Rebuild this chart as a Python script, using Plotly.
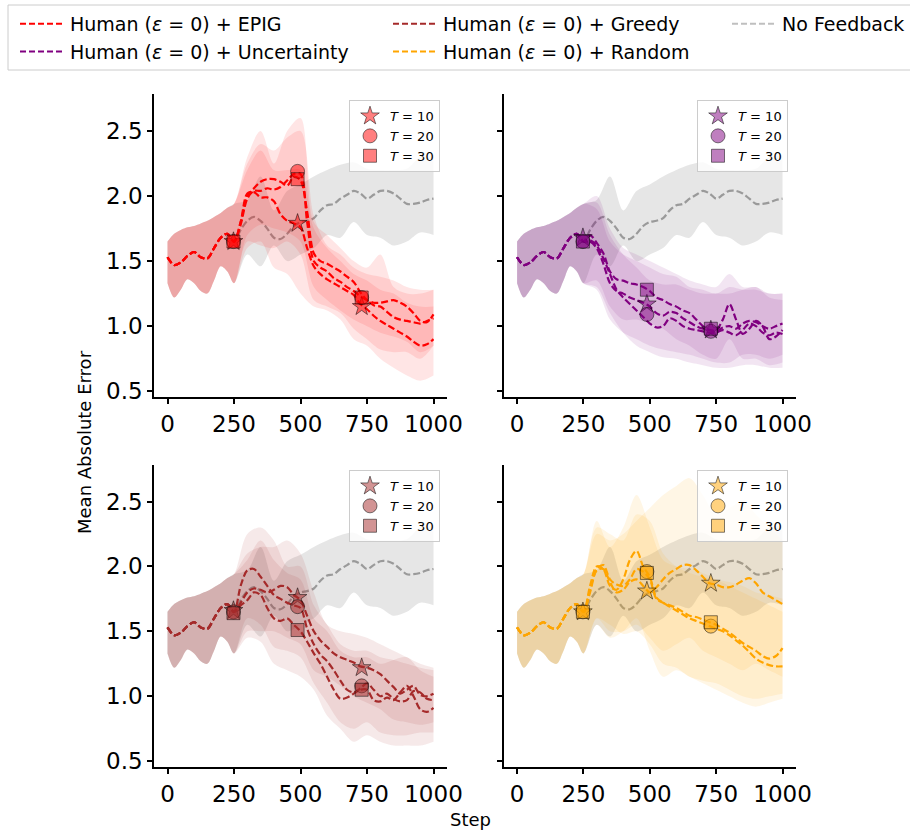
import plotly.graph_objects as go

# ---------------- data ----------------
WARM_STEPS = [0, 25, 50, 75, 100, 125, 150, 175, 200, 225, 250]
WARM_MEAN = [1.53, 1.47, 1.49, 1.54, 1.57, 1.53, 1.52, 1.60, 1.68, 1.71, 1.65]
WARM_HI = [1.65, 1.71, 1.74, 1.76, 1.77, 1.79, 1.81, 1.84, 1.87, 1.91, 1.94]
WARM_LO = [1.33, 1.22, 1.28, 1.36, 1.33, 1.27, 1.25, 1.35, 1.46, 1.42, 1.33]

LINE_STEPS = [275, 300, 325, 350, 375, 400, 425, 450, 475, 500,
              525, 550, 575, 600, 625, 650, 675, 700, 725, 750,
              775, 800, 825, 850, 875, 900, 925, 950, 975, 1000]
BAND_STEPS = [300, 350, 400, 450, 500, 550, 600, 650, 700, 750, 800, 850, 900, 950, 1000]
MARKER_STEPS = [248, 489, 730]

# No feedback baseline
NOFB = [1.74, 1.81, 1.84, 1.81, 1.75, 1.68, 1.67, 1.71, 1.77, 1.80,
        1.81, 1.83, 1.89, 1.93, 1.94, 1.98, 2.01, 2.04, 2.02, 1.98,
        2.01, 2.04, 2.04, 2.02, 1.98, 1.94, 1.94, 1.95, 1.97, 1.98]
NOFB_HI = [1.97, 2.15, 1.89, 2.04, 2.09, 2.15, 2.20, 2.24, 2.26, 2.21, 2.20, 2.20, 2.21, 2.30, 2.31]
NOFB_LO = [1.55, 1.46, 1.62, 1.50, 1.55, 1.60, 1.70, 1.68, 1.80, 1.70, 1.68, 1.62, 1.65, 1.72, 1.70]

# EPIG
EPIG_T10 = [1.80, 2.02, 2.03, 1.99, 1.99, 1.96, 1.86, 1.81, 1.79, 1.76,
            1.60, 1.46, 1.40, 1.36, 1.33, 1.30, 1.27, 1.24, 1.17, 1.13,
            1.08, 1.04, 1.01, 0.98, 0.95, 0.92, 0.88, 0.85, 0.86, 0.90]
EPIG_T20 = [1.78, 1.98, 2.04, 2.04, 2.06, 2.05, 2.07, 2.12, 2.17, 2.17,
            1.80, 1.50, 1.45, 1.42, 1.37, 1.34, 1.30, 1.27, 1.23, 1.20,
            1.16, 1.15, 1.11, 1.07, 1.05, 1.04, 1.03, 1.02, 1.04, 1.06]
EPIG_T30 = [1.80, 2.00, 2.06, 2.11, 2.13, 2.13, 2.11, 2.08, 2.15, 2.12,
            1.88, 1.56, 1.50, 1.48, 1.45, 1.42, 1.38, 1.34, 1.26, 1.20,
            1.18, 1.18, 1.19, 1.20, 1.18, 1.15, 1.10, 1.04, 1.03, 1.09]
EPIG_T10_HI = [2.20, 2.35, 2.20, 2.20, 2.20, 1.75, 1.60, 1.50, 1.40, 1.35, 1.28, 1.25, 1.18, 1.15, 1.15]
EPIG_T10_LO = [1.60, 1.65, 1.45, 1.40, 1.25, 1.15, 1.12, 1.05, 0.90, 0.85, 0.75, 0.68, 0.62, 0.58, 0.62]
EPIG_T20_HI = [2.30, 2.50, 2.25, 2.50, 2.60, 1.80, 1.70, 1.60, 1.50, 1.45, 1.55, 1.30, 1.25, 1.25, 1.28]
EPIG_T20_LO = [1.65, 1.62, 1.60, 1.65, 1.55, 1.20, 1.15, 1.10, 0.98, 0.90, 0.82, 0.80, 0.80, 0.75, 0.85]
EPIG_T30_HI = [2.25, 2.40, 2.35, 2.45, 2.50, 1.85, 1.62, 1.55, 1.45, 1.40, 1.38, 1.35, 1.30, 1.28, 1.28]
EPIG_T30_LO = [1.70, 1.78, 1.75, 1.72, 1.65, 1.30, 1.20, 1.12, 1.05, 1.00, 0.95, 0.92, 0.88, 0.80, 0.85]
EPIG_MARK_T10 = [1.65, 1.79, 1.15]
EPIG_MARK_T20 = [1.65, 2.19, 1.22]
EPIG_MARK_T30 = [1.65, 2.13, 1.22]

# Uncertainty
UNC_T10 = [1.65, 1.60, 1.48, 1.33, 1.27, 1.25, 1.22, 1.20, 1.18, 1.15,
           1.10, 1.08, 1.11, 1.10, 1.06, 1.03, 1.00, 0.98, 0.97, 0.96,
           0.99, 1.00, 0.98, 1.02, 1.04, 1.03, 1.00, 0.98, 1.00, 1.02]
UNC_T20 = [1.66, 1.62, 1.52, 1.40, 1.28, 1.22, 1.17, 1.12, 1.07, 1.02,
           0.99, 1.00, 1.06, 1.04, 1.00, 0.98, 0.97, 0.96, 0.95, 0.95,
           0.97, 0.95, 0.93, 0.97, 1.02, 1.00, 0.95, 0.93, 0.95, 0.94]
UNC_T30 = [1.70, 1.64, 1.56, 1.42, 1.36, 1.35, 1.33, 1.32, 1.30, 1.27,
           1.22, 1.20, 1.17, 1.15, 1.12, 1.10, 1.05, 1.00, 0.97, 0.97,
           1.05, 1.17, 1.05, 0.94, 0.98, 1.04, 1.00, 0.90, 0.92, 0.97]
UNC_T10_HI = [1.90, 1.65, 1.55, 1.50, 1.45, 1.40, 1.38, 1.30, 1.28, 1.25, 1.30, 1.28, 1.28, 1.25, 1.25]
UNC_T10_LO = [1.28, 1.05, 0.95, 0.90, 0.85, 0.82, 0.80, 0.78, 0.75, 0.72, 0.72, 0.78, 0.78, 0.75, 0.78]
UNC_T20_HI = [1.95, 1.70, 1.55, 1.45, 1.35, 1.32, 1.32, 1.28, 1.25, 1.25, 1.25, 1.28, 1.30, 1.22, 1.20]
UNC_T20_LO = [1.30, 1.10, 0.95, 0.85, 0.80, 0.76, 0.75, 0.72, 0.70, 0.68, 0.68, 0.70, 0.70, 0.68, 0.68]
UNC_T30_HI = [2.00, 1.75, 1.60, 1.55, 1.50, 1.45, 1.40, 1.35, 1.32, 1.30, 1.40, 1.30, 1.30, 1.25, 1.25]
UNC_T30_LO = [1.35, 1.15, 1.05, 1.05, 1.02, 0.98, 0.90, 0.85, 0.78, 0.75, 0.90, 0.75, 0.75, 0.70, 0.72]
UNC_MARK_T10 = [1.68, 1.17, 0.97]
UNC_MARK_T20 = [1.65, 1.09, 0.96]
UNC_MARK_T30 = [1.65, 1.28, 0.98]

# Greedy
GRD_T10 = [1.72, 1.80, 1.83, 1.82, 1.80, 1.82, 1.85, 1.84, 1.78, 1.74,
           1.62, 1.50, 1.43, 1.38, 1.33, 1.30, 1.28, 1.26, 1.23, 1.22,
           1.20, 1.17, 1.12, 1.07, 1.02, 1.05, 1.08, 1.01, 1.00, 1.02]
GRD_T20 = [1.85, 1.97, 1.98, 1.92, 1.85, 1.78, 1.75, 1.72, 1.70, 1.68,
           1.52, 1.40, 1.32, 1.27, 1.20, 1.12, 1.05, 1.03, 1.06, 1.10,
           1.05, 1.00, 1.02, 0.98, 0.96, 0.97, 1.04, 1.03, 0.98, 0.97]
GRD_T30 = [1.70, 1.74, 1.80, 1.78, 1.68, 1.60, 1.58, 1.60, 1.55, 1.50,
           1.42, 1.33, 1.25, 1.15, 1.05, 0.98, 0.99, 1.02, 1.05, 1.05,
           0.97, 0.96, 0.99, 0.97, 1.03, 1.08, 1.00, 0.90, 0.88, 0.91]
GRD_T10_HI = [2.10, 2.15, 2.15, 2.20, 2.10, 1.80, 1.55, 1.50, 1.48, 1.45, 1.40, 1.35, 1.30, 1.25, 1.22]
GRD_T10_LO = [1.50, 1.50, 1.50, 1.45, 1.40, 1.20, 1.15, 1.08, 1.00, 0.95, 0.90, 0.82, 0.80, 0.78, 0.80]
GRD_T20_HI = [2.25, 2.30, 2.20, 2.00, 2.00, 1.70, 1.55, 1.40, 1.35, 1.35, 1.30, 1.28, 1.25, 1.22, 1.20]
GRD_T20_LO = [1.60, 1.55, 1.38, 1.35, 1.30, 1.10, 0.95, 0.80, 0.75, 0.80, 0.72, 0.70, 0.70, 0.72, 0.72]
GRD_T30_HI = [2.05, 2.20, 2.05, 1.95, 1.90, 1.60, 1.50, 1.35, 1.30, 1.30, 1.25, 1.28, 1.30, 1.20, 1.15]
GRD_T30_LO = [1.45, 1.42, 1.25, 1.20, 1.15, 1.05, 0.85, 0.75, 0.65, 0.70, 0.65, 0.62, 0.62, 0.62, 0.65]
GRD_MARK_T10 = [1.66, 1.76, 1.22]
GRD_MARK_T20 = [1.65, 1.69, 1.08]
GRD_MARK_T30 = [1.64, 1.51, 1.05]

# Random
RND_T10 = [1.80, 1.97, 1.98, 1.88, 1.80, 1.82, 1.88, 1.90, 1.85, 1.80,
           1.84, 1.90, 1.95, 1.98, 2.01, 2.01, 1.97, 1.92, 1.87, 1.86,
           1.84, 1.84, 1.86, 1.89, 1.91, 1.87, 1.80, 1.77, 1.74, 1.71]
RND_T20 = [1.85, 2.00, 1.98, 1.85, 1.82, 1.90, 2.05, 2.12, 2.00, 1.92,
           1.76, 1.72, 1.69, 1.66, 1.63, 1.60, 1.58, 1.56, 1.54, 1.52,
           1.50, 1.47, 1.43, 1.39, 1.34, 1.29, 1.26, 1.24, 1.23, 1.23]
RND_T30 = [1.82, 1.98, 2.01, 1.90, 1.86, 1.85, 1.90, 1.98, 1.96, 1.90,
           1.75, 1.72, 1.70, 1.68, 1.65, 1.62, 1.61, 1.59, 1.57, 1.55,
           1.52, 1.49, 1.45, 1.41, 1.38, 1.35, 1.31, 1.29, 1.31, 1.37]
RND_T10_HI = [2.25, 2.20, 2.25, 2.35, 2.45, 2.55, 2.62, 2.68, 2.55, 2.40, 2.45, 2.50, 2.40, 2.30, 2.20]
RND_T10_LO = [1.60, 1.50, 1.50, 1.55, 1.45, 1.35, 1.40, 1.45, 1.35, 1.30, 1.25, 1.20, 1.25, 1.20, 1.15]
RND_T20_HI = [2.35, 2.15, 2.30, 2.55, 2.30, 2.05, 2.00, 1.98, 1.95, 1.90, 1.85, 1.80, 1.75, 1.70, 1.65]
RND_T20_LO = [1.55, 1.45, 1.50, 1.60, 1.35, 1.15, 1.20, 1.15, 1.10, 1.05, 1.00, 0.95, 0.92, 0.95, 0.98]
RND_T30_HI = [2.30, 2.25, 2.20, 2.40, 2.35, 2.10, 2.00, 1.95, 1.92, 1.90, 1.88, 1.85, 1.80, 1.78, 1.75]
RND_T30_LO = [1.60, 1.55, 1.48, 1.50, 1.40, 1.25, 1.22, 1.15, 1.12, 1.10, 1.05, 1.00, 0.98, 1.00, 1.02]
RND_MARK_T10 = [1.65, 1.81, 1.87]
RND_MARK_T20 = [1.65, 1.96, 1.54]
RND_MARK_T30 = [1.65, 1.95, 1.57]

T_LABELS = ["<i>T</i> = 10", "<i>T</i> = 20", "<i>T</i> = 30"]
METHOD_LABELS = ["Human (<i>ε</i> = 0) + EPIG", "Human (<i>ε</i> = 0) + Uncertainty",
                 "Human (<i>ε</i> = 0) + Greedy", "Human (<i>ε</i> = 0) + Random"]
NOFB_LABEL = "No Feedback"

# ---------------- styling ----------------
FONT = "DejaVu Sans"
RGB = {"red": (255, 0, 0), "purple": (128, 0, 128), "brown": (165, 42, 42),
       "orange": (255, 165, 0), "gray": (128, 128, 128)}


def rgba(name, a):
    r, g, b = RGB[name]
    return f"rgba({r},{g},{b},{a})"


DASH = "7px,3px"
SYMBOLS = ["star", "circle", "square"]
SIZES = [14, 14, 13]
BAND_ALPHA = 0.1

PANELS = [
    ("x", "y", "red", "legend4",
     [(EPIG_T10, EPIG_T10_HI, EPIG_T10_LO, EPIG_MARK_T10),
      (EPIG_T20, EPIG_T20_HI, EPIG_T20_LO, EPIG_MARK_T20),
      (EPIG_T30, EPIG_T30_HI, EPIG_T30_LO, EPIG_MARK_T30)]),
    ("x2", "y2", "purple", "legend5",
     [(UNC_T10, UNC_T10_HI, UNC_T10_LO, UNC_MARK_T10),
      (UNC_T20, UNC_T20_HI, UNC_T20_LO, UNC_MARK_T20),
      (UNC_T30, UNC_T30_HI, UNC_T30_LO, UNC_MARK_T30)]),
    ("x3", "y3", "brown", "legend6",
     [(GRD_T10, GRD_T10_HI, GRD_T10_LO, GRD_MARK_T10),
      (GRD_T20, GRD_T20_HI, GRD_T20_LO, GRD_MARK_T20),
      (GRD_T30, GRD_T30_HI, GRD_T30_LO, GRD_MARK_T30)]),
    ("x4", "y4", "orange", "legend7",
     [(RND_T10, RND_T10_HI, RND_T10_LO, RND_MARK_T10),
      (RND_T20, RND_T20_HI, RND_T20_LO, RND_MARK_T20),
      (RND_T30, RND_T30_HI, RND_T30_LO, RND_MARK_T30)]),
]

line_x = WARM_STEPS + LINE_STEPS
band_x = WARM_STEPS + BAND_STEPS

fig = go.Figure()


def add_band(xa, ya, hi, lo, fill):
    fig.add_trace(go.Scatter(x=band_x, y=WARM_HI + hi, mode="lines",
                             line=dict(width=0, shape="spline", smoothing=0.9),
                             hoverinfo="skip", showlegend=False, xaxis=xa, yaxis=ya))
    fig.add_trace(go.Scatter(x=band_x, y=WARM_LO + lo, mode="lines",
                             line=dict(width=0, shape="spline", smoothing=0.9),
                             fill="tonexty", fillcolor=fill,
                             hoverinfo="skip", showlegend=False, xaxis=xa, yaxis=ya))


def add_line(xa, ya, y, color):
    fig.add_trace(go.Scatter(x=line_x, y=WARM_MEAN + y, mode="lines",
                             line=dict(color=color, width=2.2, dash=DASH,
                                       shape="spline", smoothing=0.9),
                             showlegend=False, xaxis=xa, yaxis=ya))


for xa, ya, cname, leg, series in PANELS:
    # no-feedback baseline
    add_band(xa, ya, NOFB_HI, NOFB_LO, rgba("gray", 0.2))
    add_line(xa, ya, NOFB, rgba("gray", 0.75))
    for mean, hi, lo, mk in series:
        add_band(xa, ya, hi, lo, rgba(cname, BAND_ALPHA))
    for mean, hi, lo, mk in series:
        add_line(xa, ya, mean, rgba(cname, 1))
    for i, (mean, hi, lo, mk) in enumerate(series):
        fig.add_trace(go.Scatter(x=MARKER_STEPS, y=mk, mode="markers",
                                 marker=dict(symbol=SYMBOLS[i], size=SIZES[i],
                                             color=rgba(cname, 0.5),
                                             line=dict(color="rgba(0,0,0,0.5)", width=1)),
                                 showlegend=False, xaxis=xa, yaxis=ya))
    # per-panel T legend
    for i in range(3):
        fig.add_trace(go.Scatter(x=[None], y=[None], mode="markers", name=T_LABELS[i],
                                 marker=dict(symbol=SYMBOLS[i], size=SIZES[i],
                                             color=rgba(cname, 0.5),
                                             line=dict(color="rgba(0,0,0,0.5)", width=1)),
                                 legend=leg, xaxis=xa, yaxis=ya))

# top legend (three columns)
TOP = [("legend", METHOD_LABELS[0], "red"), ("legend", METHOD_LABELS[1], "purple"),
       ("legend2", METHOD_LABELS[2], "brown"), ("legend2", METHOD_LABELS[3], "orange")]
for leg, name, cname in TOP:
    fig.add_trace(go.Scatter(x=[None], y=[None], mode="lines", name=name,
                             line=dict(color=rgba(cname, 1), width=2, dash="6px,3px"),
                             legend=leg))
fig.add_trace(go.Scatter(x=[None], y=[None], mode="lines", name=NOFB_LABEL,
                         line=dict(color=rgba("gray", 0.5), width=2, dash="6px,3px"),
                         legend="legend3"))

W, H = 910, 831
XDOM = [[154.2 / W, 446.8 / W], [503.8 / W, 795.8 / W]]
YDOM = [[1 - 397 / H, 1 - 94 / H], [1 - 767 / H, 1 - 464.5 / H]]

axis_common = dict(showgrid=False, zeroline=False, showline=True, linecolor="black",
                   linewidth=2, ticks="outside", ticklen=5, tickwidth=1.5,
                   tickcolor="black", tickfont=dict(family=FONT, size=23, color="black"),
                   automargin=False)

layout_axes = {}
for k, (xa, ya) in enumerate([("x", "y"), ("x2", "y2"), ("x3", "y3"), ("x4", "y4")]):
    row, col = divmod(k, 2)
    xname = "xaxis" if xa == "x" else "xaxis" + xa[1:]
    yname = "yaxis" if ya == "y" else "yaxis" + ya[1:]
    layout_axes[xname] = dict(axis_common, domain=XDOM[col], anchor=ya, range=[-50, 1050],
                              tickvals=[0, 250, 500, 750, 1000])
    layout_axes[yname] = dict(axis_common, domain=YDOM[row], anchor=xa, range=[0.455, 2.785],
                              tickvals=[0.5, 1.0, 1.5, 2.0, 2.5], tickformat=".1f",
                              showticklabels=(col == 0))

top_leg = dict(font=dict(family=FONT, size=19, color="black"), bgcolor="rgba(0,0,0,0)",
               xanchor="left", yanchor="top", y=1 - 5 / H, tracegroupgap=0,
               traceorder="normal", itemwidth=45)
t_leg = dict(font=dict(family=FONT, size=13, color="black"), bgcolor="rgba(255,255,255,0.8)",
             bordercolor="#cccccc", borderwidth=1, xanchor="right", yanchor="top",
             traceorder="normal")

fig.update_layout(
    width=W, height=H, margin=dict(l=0, r=0, t=0, b=0),
    paper_bgcolor="white", plot_bgcolor="white",
    font=dict(family=FONT, color="black"),
    showlegend=True, hovermode=False,
    legend=dict(top_leg, x=15 / W),
    legend2=dict(top_leg, x=388 / W),
    legend3=dict(top_leg, x=727 / W),
    legend4=dict(t_leg, x=440 / W, y=1 - 100 / H),
    legend5=dict(t_leg, x=788 / W, y=1 - 100 / H),
    legend6=dict(t_leg, x=440 / W, y=1 - 470 / H),
    legend7=dict(t_leg, x=788 / W, y=1 - 470 / H),
    shapes=[dict(type="rect", xref="paper", yref="paper", x0=8 / W, x1=1.02,
                 y0=1 - 70 / H, y1=1 - 5 / H, line=dict(color="#cccccc", width=1),
                 fillcolor="rgba(0,0,0,0)", layer="above")],
    annotations=[
        dict(text="Mean Absolute Error", xref="paper", yref="paper", x=84 / W, y=1 - 442 / H,
             xanchor="center", yanchor="middle",
             textangle=-90, showarrow=False, font=dict(family=FONT, size=18, color="black")),
        dict(text="Step", xref="paper", yref="paper", x=470 / W, y=1 - 819 / H,
             xanchor="center", yanchor="middle",
             showarrow=False, font=dict(family=FONT, size=18, color="black")),
    ],
    **layout_axes,
)

fig.write_html("out.html")
